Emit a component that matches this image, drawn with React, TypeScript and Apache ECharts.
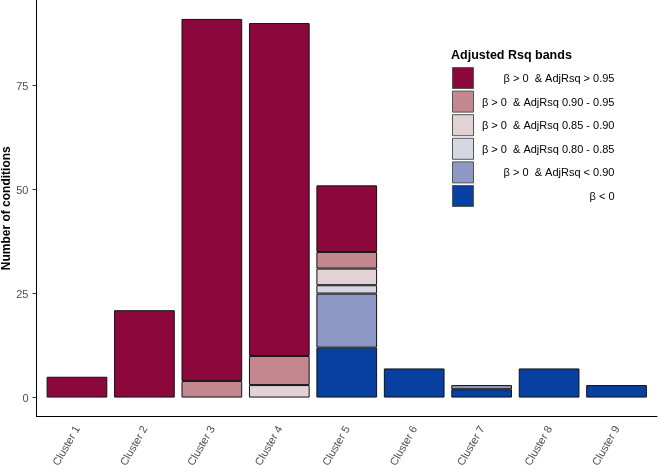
import React, { useEffect, useRef } from "react";
import * as echarts from "echarts";

const categories = ["Cluster 1", "Cluster 2", "Cluster 3", "Cluster 4", "Cluster 5", "Cluster 6", "Cluster 7", "Cluster 8", "Cluster 9"];
const yTicks = [0, 25, 50, 75];

const betaNeg = [0, 0, 0, 0, 12, 7, 2, 7, 3];
const adjBelow090 = [0, 0, 0, 0, 13, 0, 1, 0, 0];
const adj080to085 = [0, 0, 0, 0, 2, 0, 0, 0, 0];
const adj085to090 = [0, 0, 0, 3, 4, 0, 0, 0, 0];
const adj090to095 = [0, 0, 4, 7, 4, 0, 0, 0, 0];
const adjAbove095 = [5, 21, 87, 80, 16, 0, 0, 0, 0];

const seriesDefs = [
  { name: "β < 0", values: betaNeg, color: "#0740A0" },
  { name: "β > 0  & AdjRsq < 0.90", values: adjBelow090, color: "#8E98C4" },
  { name: "β > 0  & AdjRsq 0.80 - 0.85", values: adj080to085, color: "#D5D7E4" },
  { name: "β > 0  & AdjRsq 0.85 - 0.90", values: adj085to090, color: "#E2D2D6" },
  { name: "β > 0  & AdjRsq 0.90 - 0.95", values: adj090to095, color: "#C4868F" },
  { name: "β > 0  & AdjRsq > 0.95", values: adjAbove095, color: "#8C083C" },
];

export default function App() {
  const ref = useRef<HTMLDivElement>(null);
  useEffect(() => {
    if (!ref.current) return;
    const chart = echarts.init(ref.current, null, { renderer: "svg" });
    const font = "Liberation Sans, Arial, sans-serif";
    const totals = categories.map((_, i) => seriesDefs.reduce((s, d) => s + d.values[i], 0));
    const maxTotal = Math.max(...totals);
    const yMin = -0.05 * maxTotal;
    const yMax = 1.05 * maxTotal;
    // outer frame spans the ggplot-style expanded range (0.6 of a band each side)
    const outerLeft = 36.5;
    const outerRight = 3;
    const plotW = 660 - outerLeft - outerRight;
    const band = plotW / (categories.length + 0.2);
    const inset = 0.1 * band;
    chart.setOption({
      animation: false,
      textStyle: { fontFamily: font },
      title: {
        text: "Adjusted Rsq bands",
        left: 451,
        top: 48,
        padding: 0,
        textStyle: { fontSize: 12.5, fontWeight: "bold", color: "#000", fontFamily: font },
      },
      legend: {
        orient: "vertical",
        left: 452,
        top: 67,
        padding: 0,
        itemWidth: 21,
        itemHeight: 21,
        itemGap: 1.6,
        icon: "rect",
        data: seriesDefs.map((d) => d.name).reverse(),
        formatter: (n: string) => "{a|" + n + "}",
        textStyle: {
          fontFamily: font,
          fontSize: 11,
          color: "#000",
          rich: { a: { width: 136, align: "right", fontSize: 11, fontFamily: font, color: "#000" } },
        },
        itemStyle: { borderColor: "#555", borderWidth: 1 },
      },
      grid: [
        { left: outerLeft, right: outerRight, top: 0, bottom: 56.5, containLabel: false, outerBoundsMode: "none" },
        { left: outerLeft + inset, right: outerRight + inset, top: 0, bottom: 56.5, containLabel: false, outerBoundsMode: "none" },
      ],
      xAxis: [
        {
          type: "value",
          gridIndex: 0,
          min: 0,
          max: 1,
          splitLine: { show: false },
          axisLine: { show: true, onZero: false, lineStyle: { color: "#000", width: 1 } },
          axisTick: { show: false },
          axisLabel: { show: false },
        },
        {
          type: "category",
          gridIndex: 1,
          data: categories,
          splitLine: { show: false },
          axisLine: { show: false },
          axisTick: { show: false },
          axisLabel: {
            interval: 0,
            rotate: 60,
            fontSize: 11,
            color: "#4D4D4D",
            margin: 10,
            fontFamily: font,
          },
        },
      ],
      yAxis: [
        {
          type: "value",
          gridIndex: 0,
          min: yMin,
          max: yMax,
          name: "Number of conditions",
          nameLocation: "middle",
          nameGap: 25,
          nameMoveOverlap: false,
          nameTextStyle: { fontSize: 12, fontWeight: "bold", color: "#000", fontFamily: font },
          splitLine: { show: false },
          axisLine: { show: true, onZero: false, lineStyle: { color: "#000", width: 1 } },
          axisTick: { show: true, customValues: yTicks, length: 4, lineStyle: { color: "#333" } },
          axisLabel: { customValues: yTicks, fontSize: 11, color: "#4D4D4D", margin: 8, fontFamily: font },
        },
        {
          type: "value",
          gridIndex: 1,
          min: yMin,
          max: yMax,
          show: false,
          splitLine: { show: false },
        },
      ],
      series: seriesDefs.map((d) => ({
        name: d.name,
        type: "bar",
        stack: "total",
        xAxisIndex: 1,
        yAxisIndex: 1,
        barWidth: "90%",
        itemStyle: { color: d.color, borderColor: "#111", borderWidth: 1 },
        data: d.values.map((v) => (v > 0 ? v : "-")),
      })),
    });
    return () => chart.dispose();
  }, []);
  return <div ref={ref} style={{ position: "fixed", left: 0, top: 0, width: 660, height: 473 }} />;
}
